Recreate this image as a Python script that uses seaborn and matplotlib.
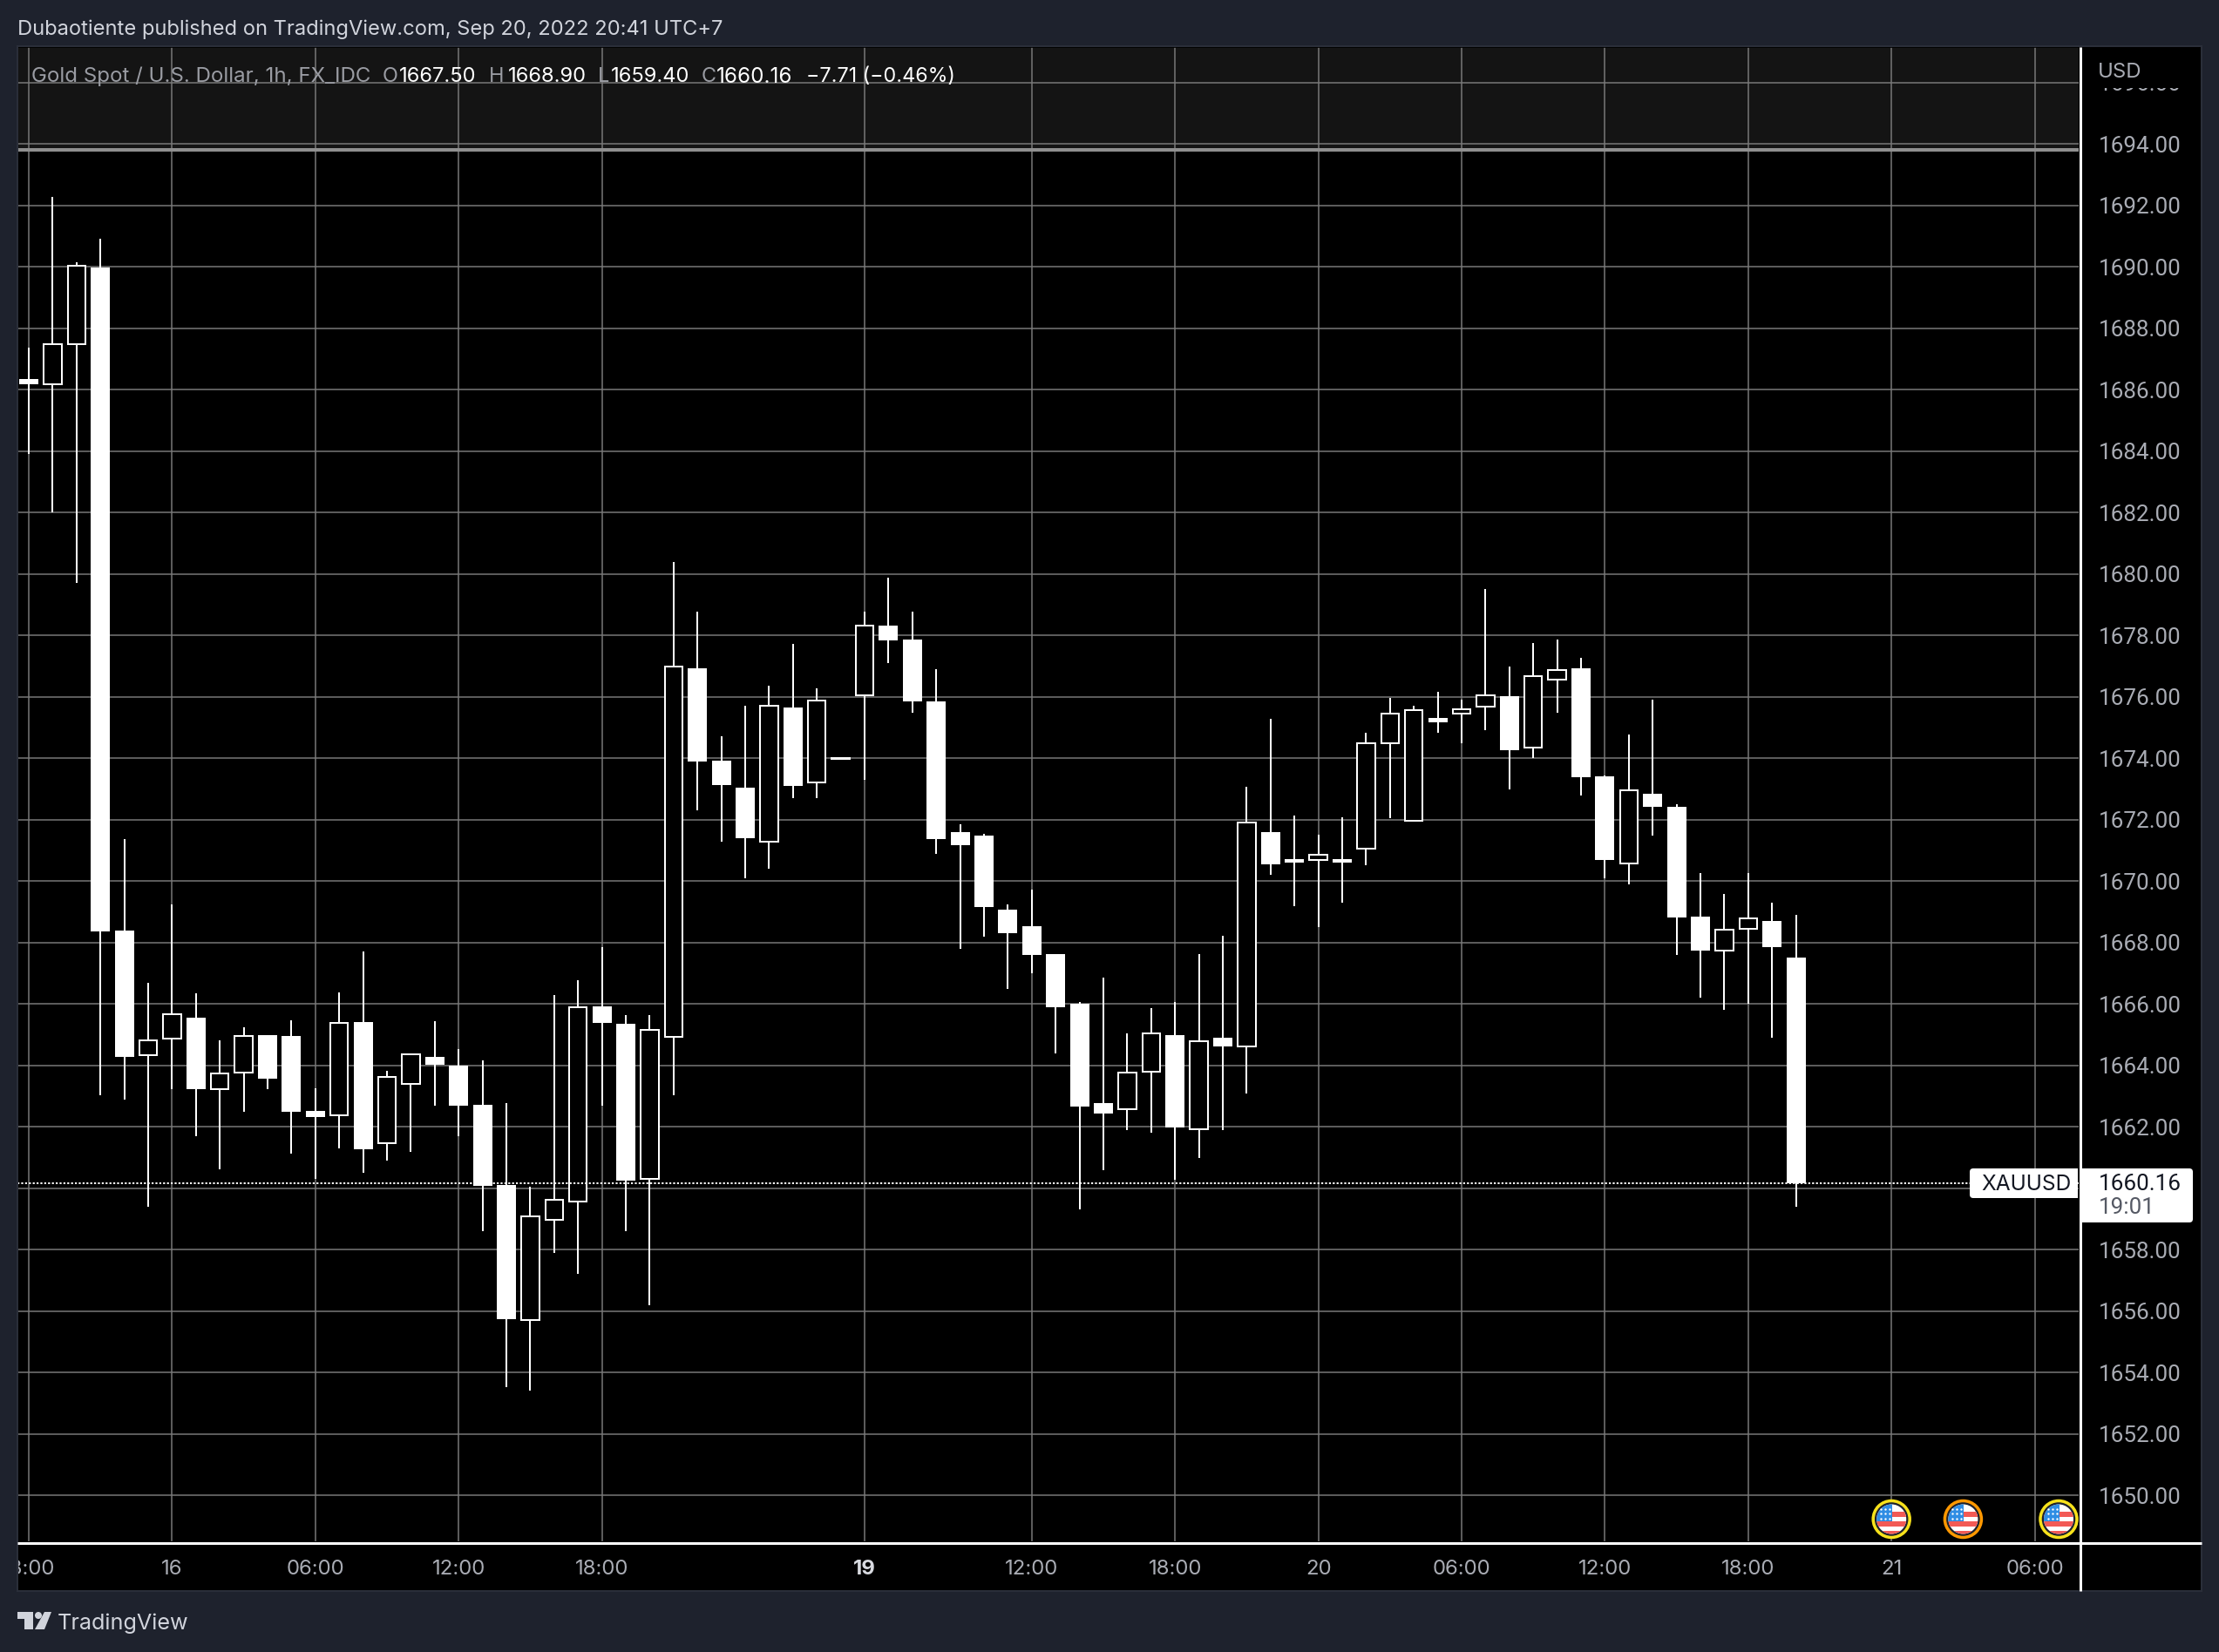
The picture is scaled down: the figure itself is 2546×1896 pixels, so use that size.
import numpy as np
import pandas as pd
import matplotlib
matplotlib.use('Agg')
import matplotlib.pyplot as plt
from matplotlib.patches import Circle, Rectangle, Polygon, FancyBboxPatch
import seaborn as sns

# candles, one hour each, oldest first
opens = [1686.34, 1686.18, 1687.48, 1689.97, 1668.39, 1664.34, 1664.86, 1665.55, 1663.21, 1663.75,
         1664.98, 1664.95, 1662.52, 1662.36, 1665.41, 1661.46, 1663.38, 1664.27, 1663.99, 1662.72,
         1660.10, 1655.70, 1658.96, 1659.55, 1665.92, 1665.35, 1660.30, 1664.93, 1676.93, 1673.91,
         1673.03, 1671.29, 1675.64, 1673.20, 1673.97, 1676.03, 1678.31, 1677.85, 1675.85, 1671.58,
         1671.47, 1669.06, 1668.52, 1667.61, 1666.00, 1662.77, 1662.58, 1663.78, 1664.97, 1661.91,
         1664.89, 1664.60, 1671.58, 1670.70, 1670.69, 1670.62, 1671.04, 1674.47, 1671.95, 1675.30,
         1675.44, 1675.68, 1676.01, 1674.35, 1676.56, 1676.92, 1673.40, 1670.58, 1672.83, 1672.41,
         1668.84, 1667.74, 1668.45, 1668.69, 1667.50]
highs = [1687.36, 1692.27, 1690.14, 1690.91, 1671.37, 1666.68, 1669.23, 1666.34, 1664.81, 1665.23,
         1664.98, 1665.46, 1663.25, 1666.37, 1667.70, 1663.82, 1664.37, 1665.44, 1664.53, 1664.16,
         1662.76, 1660.05, 1666.28, 1666.76, 1667.85, 1665.63, 1665.63, 1680.39, 1678.77, 1674.71,
         1675.70, 1676.36, 1677.72, 1676.27, 1674.02, 1678.77, 1679.87, 1678.77, 1676.89, 1671.84,
         1671.54, 1669.24, 1669.71, 1667.61, 1666.06, 1666.84, 1665.04, 1665.85, 1666.06, 1667.61,
         1668.21, 1673.07, 1675.28, 1672.12, 1671.50, 1672.07, 1674.83, 1675.95, 1675.69, 1676.16,
         1675.90, 1679.51, 1676.99, 1677.75, 1677.85, 1677.26, 1673.43, 1674.77, 1675.90, 1672.50,
         1670.25, 1669.57, 1670.25, 1669.29, 1668.90]
lows = [1683.89, 1682.00, 1679.69, 1663.01, 1662.89, 1659.40, 1663.21, 1661.70, 1660.60, 1662.49,
        1663.21, 1661.11, 1660.31, 1661.29, 1660.50, 1660.90, 1661.19, 1662.69, 1661.69, 1658.61,
        1653.51, 1653.41, 1657.90, 1657.22, 1662.69, 1658.61, 1656.20, 1663.01, 1672.30, 1671.27,
        1670.09, 1670.40, 1672.69, 1672.69, 1673.95, 1673.29, 1677.09, 1675.48, 1670.88, 1667.79,
        1668.18, 1666.49, 1666.99, 1664.39, 1659.30, 1660.57, 1661.89, 1661.80, 1660.28, 1660.98,
        1661.89, 1663.08, 1670.20, 1669.17, 1668.49, 1669.29, 1670.50, 1672.03, 1671.95, 1674.81,
        1674.49, 1674.90, 1672.98, 1674.01, 1675.49, 1672.79, 1670.09, 1669.90, 1671.49, 1667.60,
        1666.21, 1665.81, 1665.99, 1664.89, 1659.40]
closes = [1686.16, 1687.49, 1690.04, 1668.37, 1664.28, 1664.80, 1665.65, 1663.21, 1663.72, 1664.96,
          1663.56, 1662.47, 1662.32, 1665.39, 1661.27, 1663.61, 1664.37, 1664.01, 1662.68, 1660.08,
          1655.72, 1659.07, 1659.61, 1665.88, 1665.39, 1660.25, 1665.16, 1676.97, 1673.88, 1673.11,
          1671.39, 1675.69, 1673.10, 1675.88, 1674.00, 1678.30, 1677.84, 1675.85, 1671.36, 1671.16,
          1669.16, 1668.30, 1667.60, 1665.88, 1662.66, 1662.43, 1663.77, 1665.05, 1661.97, 1664.79,
          1664.61, 1671.91, 1670.54, 1670.59, 1670.86, 1670.68, 1674.47, 1675.44, 1675.57, 1675.17,
          1675.60, 1676.04, 1674.26, 1676.66, 1676.88, 1673.38, 1670.67, 1672.94, 1672.41, 1668.80,
          1667.73, 1668.42, 1668.79, 1667.84, 1660.16]

price_ticks = [1650, 1652, 1654, 1656, 1658, 1660, 1662, 1664, 1666, 1668, 1670, 1672,
               1674, 1676, 1678, 1680, 1682, 1684, 1686, 1688, 1690, 1692, 1694, 1696]
time_ticks = [0, 6, 12, 18, 24, 35, 42, 48, 54, 60, 66, 72, 78, 84]
time_labels = ['18:00', '16', '06:00', '12:00', '18:00', '19', '12:00', '18:00', '20',
               '06:00', '12:00', '18:00', '21', '06:00']
event_bars = [78, 81, 85]
event_rings = ['#f7e21b', '#ff9800', '#f7e21b']
last_price = 1660.16
range_line = 1693.8

W, H = 2546, 1896
BG = '#1e222d'
GRID = '#7a7a7a'
TXT = '#a9acb4'
FONT = 'Inter'
NUM_FONT = 'Roboto'


def px(n):
    return n * 72 / 100


def box(x0, y0, x1, y1):
    return [x0 / W, 1 - y1 / H, (x1 - x0) / W, (y1 - y0) / H]


sns.set_theme(style='dark', rc={'axes.edgecolor': 'black', 'figure.facecolor': BG,
                                'axes.facecolor': 'black'})
plt.rcParams['font.family'] = [FONT, 'DejaVu Sans']

fig = plt.figure(figsize=(W / 100, H / 100), dpi=100)
ax = fig.add_axes(box(20, 54, 2386, 1770))
ax_time = fig.add_axes(box(20, 1770, 2386, 1826), sharex=ax)
ax_price = fig.add_axes(box(2386, 54, 2526, 1770), sharey=ax)
ax_corner = fig.add_axes(box(2386, 1770, 2526, 1826))
ax_corner.set_xticks([])
ax_corner.set_yticks([])

df = pd.DataFrame({'bar': range(len(opens)), 'open': opens, 'high': highs, 'low': lows, 'close': closes})
wicks = df.melt(id_vars='bar', value_vars=['high', 'low'], value_name='price')

# grid and the shaded band first
ax.set_xlim(-0.474, 85.876)
ax.set_ylim(1648.47, 1697.15)
ax.set_xticks(time_ticks)
ax.set_yticks(price_ticks)
ax.grid(True, color=GRID, lw=px(1.5))
ax.set_axisbelow(True)
ax.tick_params(labelbottom=False, labelleft=False, length=0)
ax.axhspan(range_line, 1697.15, color='#141414', lw=0, zorder=0.5)
ax.axhline(range_line, color='#8f8f8f', lw=px(4), zorder=1.5)

sns.lineplot(data=wicks, x='bar', y='price', units='bar', estimator=None, sort=False,
             color='white', lw=px(2), legend=False, ax=ax, zorder=2, solid_capstyle='butt')
ax.set_xlabel('')
ax.set_ylabel('')

up = df[df['close'] > df['open']]
down = df[df['close'] <= df['open']]
ax.bar(down['bar'], down['open'] - down['close'], bottom=down['close'], width=0.8,
       color='white', lw=0, zorder=3)
ax.bar(up['bar'], up['close'] - up['open'], bottom=up['open'], width=0.74,
       facecolor='black', edgecolor='white', lw=px(2), zorder=3)

ax.axhline(last_price, color='white', lw=px(2), ls=(0, (1.1, 1.1)), zorder=4)

ax_time.set_ylim(0, 1)
ax_time.set_yticks([])
ax_time.tick_params(axis='x', length=0, pad=-px(25), labelsize=px(24), labelcolor=TXT)
ax_time.set_xticks(time_ticks)
ax_time.set_xticklabels(time_labels)
for lab in ax_time.get_xticklabels():
    lab.set_va('center')
    if lab.get_text() == '19':
        lab.set_fontweight('bold')
        lab.set_color('#d8dae0')

# the 1660 label is hidden behind the last price tag in the original
ax_price.tick_params(axis='y', length=0, pad=-px(22), labelsize=px(26), labelcolor=TXT)
ax_price.tick_params(axis='x', length=0, labelbottom=False)
ax_price.set_yticks(price_ticks)
ax_price.set_yticklabels(['' if p == 1660 else f'{p:.2f}' for p in price_ticks], family=NUM_FONT)
ax_price.set_xticks([])
for lab in ax_price.get_yticklabels():
    lab.set_ha('left')

# everything that sits over the panels, in figure pixels
ov = fig.add_axes([0, 0, 1, 1], facecolor='none')
ov.set_xlim(0, W)
ov.set_ylim(H, 0)
ov.axis('off')

ov.add_patch(Rectangle((0, 1771), 20, 56, color=BG, lw=0))
ov.add_patch(Rectangle((2389, 56), 135, 45, color='black', lw=0))
ov.add_patch(Rectangle((20, 53), 2506, 1773, fill=False, ec='#2a2e39', lw=px(2)))
ov.plot([2387, 2387], [54, 1826], color='white', lw=px(3), solid_capstyle='butt')
ov.plot([20, 2526], [1770.5, 1770.5], color='white', lw=px(3), solid_capstyle='butt')

ov.text(20, 33.5, 'Dubaotiente published on TradingView.com, Sep 20, 2022 20:41 UTC+7',
        color='#d1d4dc', fontsize=px(23.7), va='center')
ov.text(2407, 82.5, 'USD', color=TXT, fontsize=px(24), va='center')

LEG = '#9a9ca3'
for x, s, c, fs in [(36, 'Gold Spot / U.S. Dollar, 1h, FX_IDC', LEG, 24.1),
                    (439, 'O', LEG, 23.5), (458, '1667.50', 'white', 23.7),
                    (561, 'H', LEG, 23.5), (583, '1668.90', 'white', 23.7),
                    (686, 'L', LEG, 23.5), (701, '1659.40', 'white', 23.7),
                    (805, 'C', LEG, 23.5), (822, '1660.16', 'white', 24.2),
                    (925, '\u22127.71 (\u22120.46%)', 'white', 23.3)]:
    ov.text(x, 88, s, color=c, fontsize=px(fs), va='center')

# last price tags
ov.add_patch(FancyBboxPatch((2260, 1341), 124, 34, boxstyle='round,pad=0,rounding_size=4',
                            fc='white', ec='none', zorder=5))
ov.add_patch(Rectangle((2370, 1341), 14, 34, fc='white', ec='none', zorder=5))
ov.add_patch(FancyBboxPatch((2392, 1341), 124, 62, boxstyle='round,pad=0,rounding_size=4',
                            fc='white', ec='none', zorder=5))
ov.add_patch(Rectangle((2389, 1341), 14, 62, fc='white', ec='none', zorder=5))
ov.text(2273, 1359.5, 'XAUUSD', color='#131722', fontsize=px(24.5), va='center', zorder=6)
ov.text(2408, 1359, '1660.16', color='#131722', fontsize=px(26), family=NUM_FONT, va='center', zorder=6)
ov.text(2408, 1386, '19:01', color='#555964', fontsize=px(26), family=NUM_FONT, va='center', zorder=6)

# event flags on the time axis
xfm = ax.get_xlim()
for bar, ring in zip(event_bars, event_rings):
    cx = 20 + (bar - xfm[0]) / (xfm[1] - xfm[0]) * 2366
    cy = 1743.5
    ov.add_patch(Circle((cx, cy), 21, fc='#1e222d', ec=ring, lw=px(3.5), zorder=5))
    disc = Circle((cx, cy), 17, fc='white', ec='none', zorder=6)
    ov.add_patch(disc)
    for k in [-1, 1, 3]:
        st = Rectangle((cx - 18, cy + k * 5.5 - 3), 36, 6, fc='#f25a55', ec='none', zorder=7)
        ov.add_patch(st)
        st.set_clip_path(disc)
    canton = Rectangle((cx - 18, cy - 18), 19, 20, fc='#2f8de4', ec='none', zorder=8)
    ov.add_patch(canton)
    canton.set_clip_path(disc)
    sx, sy = np.meshgrid(np.arange(-12, 0, 5.0), np.arange(-12, 1, 5.5))
    ov.scatter(cx + sx.ravel(), cy + sy.ravel(), s=3, color='white', lw=0, zorder=9)

# logo
LOGO = '#d1d4dc'
ov.add_patch(Polygon([(20, 1850), (38, 1850), (38, 1870), (28, 1870), (28, 1858), (20, 1858)], fc=LOGO, ec='none'))
ov.add_patch(Circle((44, 1854), 4, fc=LOGO, ec='none'))
ov.add_patch(Polygon([(51, 1850), (59, 1850), (51, 1870), (40, 1870)], fc=LOGO, ec='none'))
ov.text(66, 1863, 'TradingView', color='#d1d4dc', fontsize=px(25.2), va='center')

fig.savefig('out.png', dpi=100, facecolor=BG)
